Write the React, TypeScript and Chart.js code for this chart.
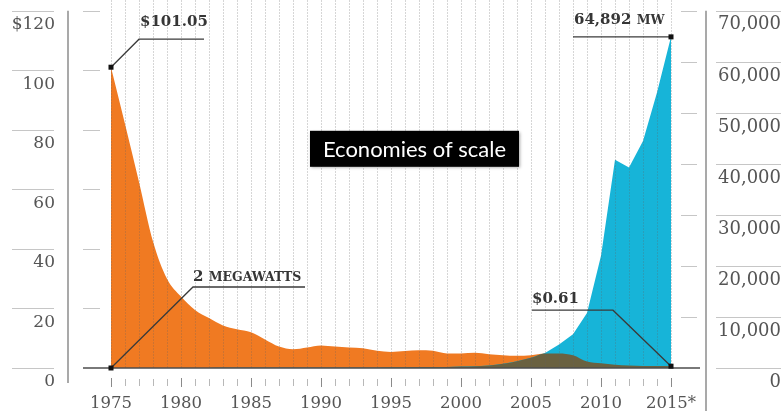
import React, { useEffect, useRef } from 'react';
import { Chart, registerables } from 'chart.js';

Chart.register(...registerables);

// ---------- data ----------
const years: number[] = [
  1975, 1976, 1977, 1978, 1979, 1980, 1981, 1982, 1983, 1984,
  1985, 1986, 1987, 1988, 1989, 1990, 1991, 1992, 1993, 1994,
  1995, 1996, 1997, 1998, 1999, 2000, 2001, 2002, 2003, 2004,
  2005, 2006, 2007, 2008, 2009, 2010, 2011, 2012, 2013, 2014, 2015,
];

// Price of solar cells, $ per watt (left axis)
const priceUsdPerWatt: number[] = [
  101.05, 82, 62.5, 42.5, 30, 24, 19.5, 16.8, 14.3, 13,
  12, 9.6, 7.2, 6.3, 6.9, 7.6, 7.2, 6.9, 6.6, 5.8,
  5.4, 5.7, 6.0, 5.8, 4.9, 4.9, 5.1, 4.6, 4.3, 4.1,
  4.3, 4.9, 4.9, 4.3, 2.2, 1.6, 1.1, 0.8, 0.7, 0.65, 0.61,
];

// Installed capacity, megawatts (right axis)
const installedMegawatts: number[] = [
  2, 3, 5, 7, 9, 12, 16, 22, 25, 28,
  30, 32, 35, 38, 42, 47, 55, 58, 60, 69,
  78, 89, 126, 153, 201, 277, 350, 480, 810, 1320,
  2000, 2950, 4600, 6600, 10800, 22000, 40800, 39300, 44500, 54000, 64892,
];

const priceTicks: number[] = [0, 20, 40, 60, 80, 100, 120];
const mwTicks: number[] = [0, 10000, 20000, 30000, 40000, 50000, 60000, 70000];
const PRICE_MAX = 120;
const MW_MAX = 70000;

const titleText = 'Economies of scale';
const priceStartLabel = '$101.05';
const priceEndLabel = '$0.61';
const mwStartNum = '2';
const mwStartUnit = 'MEGAWATTS';
const mwEndNum = '64,892';
const mwEndUnit = 'MW';

// overlap of both areas, expressed in price units
const overlapPrice: number[] = priceUsdPerWatt.map((p, i) =>
  Math.min(p, (installedMegawatts[i] * PRICE_MAX) / MW_MAX)
);

// ---------- styles ----------
const SERIF = '"DejaVu Serif", "Liberation Serif", serif';
const ORANGE = '#f07a22';
const BLUE = '#17b4d8';
const OLIVE = '#6a6140';
const TEXT = '#363636';
const AXIS_TEXT = '#555555';
const LIGHT = '#c6c6c6';

const decorPlugin = {
  id: 'decor',
  afterDatasetsDraw(chart: any) {
    const { ctx, chartArea, scales } = chart;
    const xs = scales.x;
    const ys = scales.y;
    const ys1 = scales.y1;
    const L = chartArea.left;
    const R = chartArea.right;
    const bottom = ys.getPixelForValue(0);

    const seg = (pts: number[][], color: string, width: number, dash: number[] = []) => {
      ctx.save();
      ctx.beginPath();
      ctx.strokeStyle = color;
      ctx.lineWidth = width;
      ctx.setLineDash(dash);
      pts.forEach((p, i) => (i === 0 ? ctx.moveTo(p[0], p[1]) : ctx.lineTo(p[0], p[1])));
      ctx.stroke();
      ctx.restore();
    };
    const dot = (x: number, y: number) => {
      ctx.save();
      ctx.fillStyle = '#111';
      ctx.fillRect(x - 2.5, y - 2.5, 5, 5);
      ctx.restore();
    };

    ctx.save();
    // vertical dotted year grid, drawn over the areas
    years.forEach((_, i) => {
      const px = Math.round(xs.getPixelForValue(i)) + 0.5;
      seg([[px, 0], [px, bottom]], 'rgba(95,95,95,0.26)', 1, [2, 1]);
    });
    // year tick marks below the baseline
    years.forEach((yr, i) => {
      const px = Math.round(xs.getPixelForValue(i)) + 0.5;
      const major = yr % 5 === 0;
      seg(
        [[px, bottom + (major ? 10 : 11)], [px, bottom + (major ? 19 : 18)]],
        major ? '#8a8a8a' : '#b8b8b8',
        1
      );
    });
    // left axis decorations
    priceTicks.forEach((v) => {
      const py = Math.round(ys.getPixelForValue(v)) + 0.5;
      seg([[L - 99, py], [L - 57, py]], LIGHT, 1);
      if (v > 0) seg([[L - 28, py], [L - 11, py]], LIGHT, 1);
    });
    // right axis decorations
    mwTicks.forEach((v) => {
      const py = Math.round(ys1.getPixelForValue(v)) + 0.5;
      seg([[R + 45, py], [R + 110, py]], LIGHT, 1);
      if (v > 0) seg([[R + 10, py], [R + 26, py]], LIGHT, 1);
    });
    seg([[L - 43, ys.top], [L - 43, bottom + 15]], '#8c8c8c', 1.5);
    seg([[R + 35, ys.top], [R + 35, bottom + 43]], '#8c8c8c', 1.5);
    // baseline
    seg([[L - 28, bottom], [R + 29, bottom]], '#4d4d4d', 1.5);

    const last = years.length - 1;
    const x0 = xs.getPixelForValue(0);
    const xN = xs.getPixelForValue(last);

    ctx.fillStyle = TEXT;
    ctx.textBaseline = 'alphabetic';
    ctx.textAlign = 'left';

    // $101.05
    const pA = ys.getPixelForValue(priceUsdPerWatt[0]);
    seg([[x0, pA], [x0 + 28, pA - 28], [x0 + 93, pA - 28]], '#3a3a3a', 1.3);
    dot(x0, pA);
    ctx.font = `bold 15px ${SERIF}`;
    ctx.fillText(priceStartLabel, x0 + 29, pA - 41);

    // 2 MEGAWATTS
    const mA = ys1.getPixelForValue(installedMegawatts[0]);
    seg([[x0, mA], [x0 + 82, mA - 81], [x0 + 194, mA - 81]], '#3a3a3a', 1.3);
    dot(x0, mA);
    ctx.font = `bold 15px ${SERIF}`;
    ctx.fillText(mwStartNum, x0 + 82, mA - 87);
    const w2 = ctx.measureText(mwStartNum + ' ').width;
    ctx.font = `bold 12.5px ${SERIF}`;
    ctx.fillText(mwStartUnit, x0 + 82 + w2, mA - 87);

    // 64,892 MW
    const mB = ys1.getPixelForValue(installedMegawatts[last]);
    seg([[xN, mB], [xN - 98, mB]], '#3a3a3a', 1.3);
    dot(xN, mB);
    ctx.font = `bold 15px ${SERIF}`;
    ctx.fillText(mwEndNum, xN - 97, mB - 13);
    const w6 = ctx.measureText(mwEndNum + ' ').width;
    ctx.font = `bold 12.5px ${SERIF}`;
    ctx.fillText(mwEndUnit, xN - 97 + w6, mB - 13);

    // $0.61
    const pB = ys.getPixelForValue(priceUsdPerWatt[last]);
    seg([[xN, pB], [xN - 58, pB - 56], [xN - 139, pB - 56]], '#3a3a3a', 1.3);
    dot(xN, pB);
    ctx.font = `bold 15px ${SERIF}`;
    ctx.fillText(priceEndLabel, xN - 139, pB - 63);

    // title box
    const bx = L + 199;
    const by = ys.top + 120;
    const bw = 209;
    const bh = 36;
    ctx.save();
    ctx.shadowColor = 'rgba(0,0,0,0.35)';
    ctx.shadowBlur = 3;
    ctx.shadowOffsetX = 1;
    ctx.shadowOffsetY = 1;
    ctx.fillStyle = '#000';
    ctx.fillRect(bx, by, bw, bh);
    ctx.restore();
    ctx.fillStyle = '#fff';
    ctx.font = `22px Lato, "Open Sans", sans-serif`;
    ctx.textAlign = 'center';
    ctx.textBaseline = 'middle';
    ctx.fillText(titleText, bx + bw / 2, by + bh / 2 + 1);
    ctx.restore();
  },
};

const hiddenTickGrid = (len: number) => ({
  display: true,
  drawOnChartArea: false,
  drawTicks: true,
  tickLength: len,
  tickColor: 'transparent',
  color: 'transparent',
});

export default function App() {
  const canvasRef = useRef<HTMLCanvasElement | null>(null);

  useEffect(() => {
    document.body.style.margin = '0';
    const canvas = canvasRef.current;
    if (!canvas) return;
    const chart = new Chart(canvas, {
      type: 'line',
      data: {
        labels: years.map(String),
        datasets: [
          {
            label: 'overlap',
            data: overlapPrice,
            yAxisID: 'y',
            backgroundColor: OLIVE,
            borderColor: 'transparent',
            borderWidth: 0,
            fill: 'origin',
            pointRadius: 0,
            cubicInterpolationMode: 'monotone',
            order: 1,
          },
          {
            label: 'Installed MW',
            data: installedMegawatts,
            yAxisID: 'y1',
            backgroundColor: BLUE,
            borderColor: 'transparent',
            borderWidth: 0,
            fill: 'origin',
            pointRadius: 0,
            tension: 0,
            order: 2,
          },
          {
            label: 'Price $/W',
            data: priceUsdPerWatt,
            yAxisID: 'y',
            backgroundColor: ORANGE,
            borderColor: 'transparent',
            borderWidth: 0,
            fill: 'origin',
            pointRadius: 0,
            cubicInterpolationMode: 'monotone',
            order: 3,
          },
        ],
      },
      options: {
        responsive: false,
        animation: false,
        devicePixelRatio: 1,
        layout: { padding: { top: 7, left: 0, right: 0, bottom: 0 } },
        plugins: {
          legend: { display: false },
          tooltip: { enabled: false },
        },
        events: [],
        scales: {
          x: {
            type: 'category',
            offset: false,
            grid: hiddenTickGrid(26),
            border: { display: false },
            afterFit: (s: any) => {
              s.height = 47;
            },
            ticks: {
              autoSkip: false,
              maxRotation: 0,
              padding: 0,
              color: AXIS_TEXT,
              font: { family: SERIF, size: 16.5 },
              callback: (_v: any, i: number) => {
                const yr = years[i];
                if (yr % 5 !== 0) return '';
                return i === years.length - 1 ? `${yr}*` : String(yr);
              },
            },
          },
          y: {
            position: 'left',
            min: 0,
            max: PRICE_MAX,
            grid: hiddenTickGrid(56),
            border: { display: false },
            afterFit: (s: any) => {
              s.width = 111;
            },
            afterBuildTicks: (s: any) => {
              s.ticks = priceTicks.map((v) => ({ value: v }));
            },
            ticks: {
              padding: 0,
              labelOffset: 14,
              color: AXIS_TEXT,
              font: { family: SERIF, size: 17 },
              callback: (v: any) => (Number(v) === PRICE_MAX ? `$${v}` : String(v)),
            },
          },
          y1: {
            position: 'right',
            min: 0,
            max: MW_MAX,
            grid: hiddenTickGrid(45),
            border: { display: false },
            afterFit: (s: any) => {
              s.width = 110;
            },
            afterBuildTicks: (s: any) => {
              s.ticks = mwTicks.map((v) => ({ value: v }));
            },
            ticks: {
              padding: 0,
              labelOffset: 14,
              crossAlign: 'far',
              color: AXIS_TEXT,
              font: { family: SERIF, size: 18 },
              callback: (v: any) => Number(v).toLocaleString('en-US'),
            },
          },
        },
      },
      plugins: [decorPlugin],
    } as any);
    return () => chart.destroy();
  }, []);

  return (
    <div style={{ position: 'absolute', left: 0, top: 0, width: 781, height: 415, background: '#fff' }}>
      <canvas ref={canvasRef} width={781} height={415} style={{ display: 'block' }} />
    </div>
  );
}
